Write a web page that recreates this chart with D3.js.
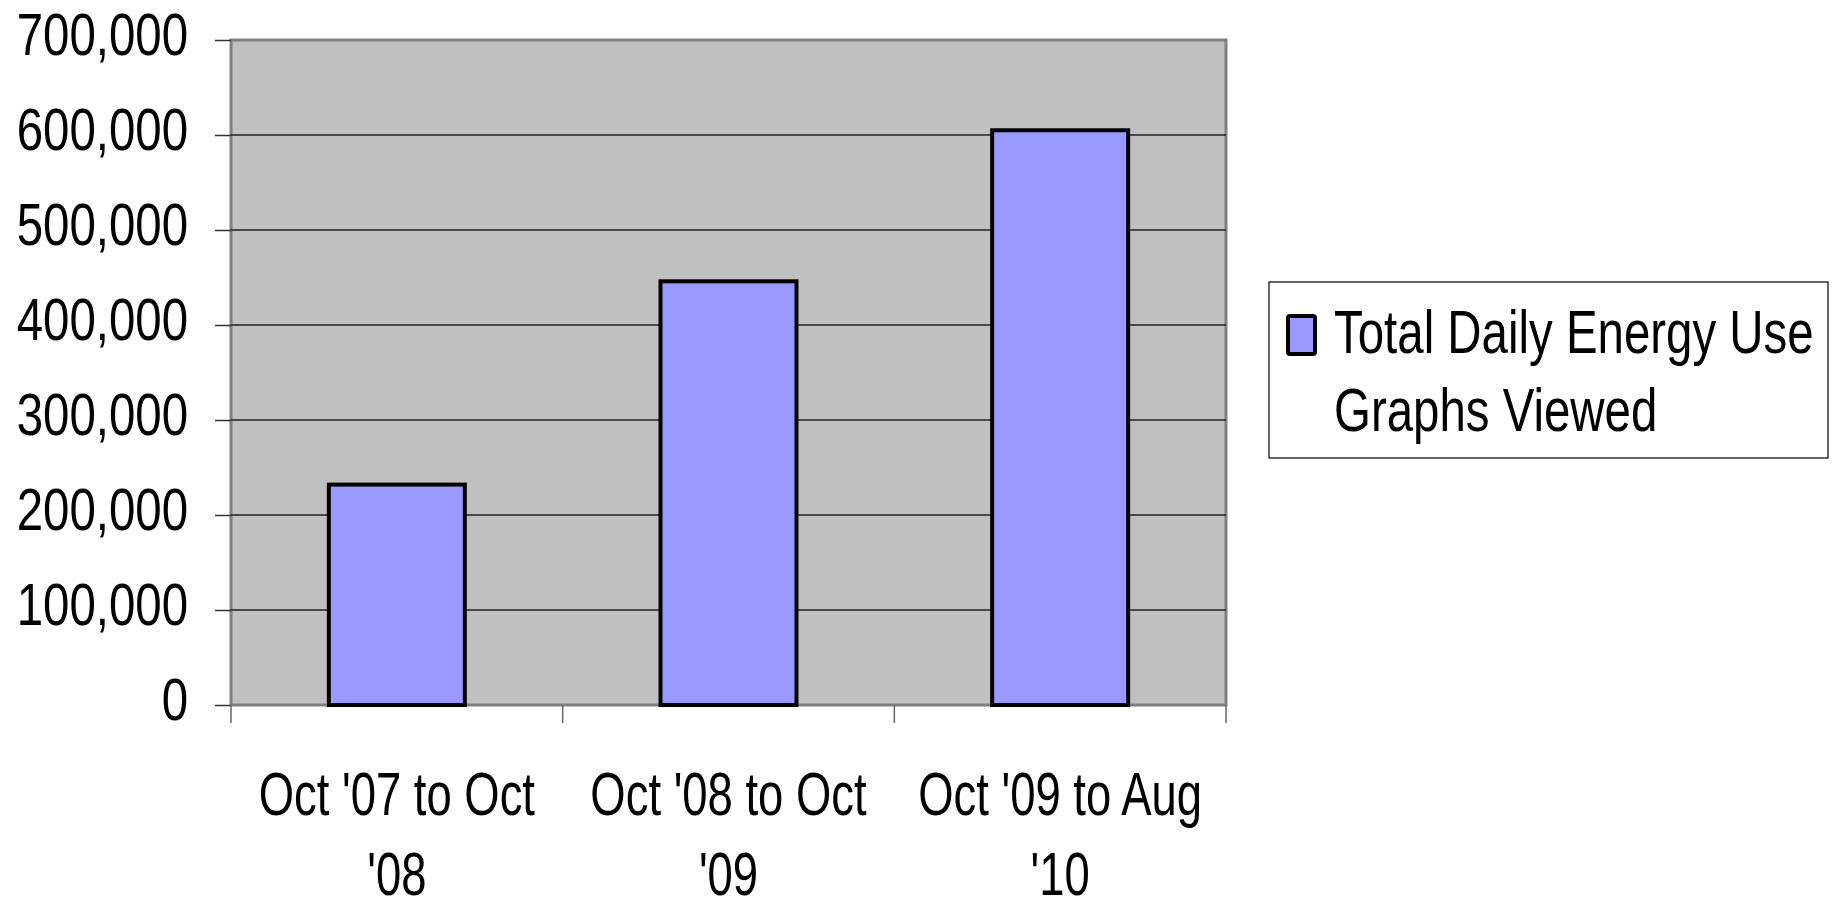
<!DOCTYPE html>
<html>
<head>
<meta charset="utf-8">
<script src="https://cdn.jsdelivr.net/npm/d3@7"></script>
<style>
  body { margin: 0; background: #ffffff; }
  text { font-family: "Liberation Sans", Arial, sans-serif; fill: #000; }
</style>
</head>
<body>
<div id="chart"></div>
<script>
// data
const categories = ["Oct '07 to Oct '08", "Oct '08 to Oct '09", "Oct '09 to Aug '10"];
const categoryLines = [["Oct '07 to Oct", "'08"], ["Oct '08 to Oct", "'09"], ["Oct '09 to Aug", "'10"]];
const values = [232000, 446000, 605000];
const yTicks = [0, 100000, 200000, 300000, 400000, 500000, 600000, 700000];
const legendLines = ["Total Daily Energy Use", "Graphs Viewed"];

const W = 1839, H = 900;
const plot = {left: 231, right: 1226, top: 40, bottom: 705};

// the original uses a narrow face, so squeeze Liberation Sans sideways
function condense(sel, sx) {
    sel.each(function() {
        const t = d3.select(this);
        const tx = +t.attr('x') || 0, ty = +t.attr('y') || 0;
        t.attr('x', 0).attr('y', 0)
         .attr('transform', `translate(${tx},${ty}) scale(${sx},1)`);
    });
}

const svg = d3.select('#chart').append('svg')
    .attr('width', W)
    .attr('height', H);

svg.append('rect').attr('width', W).attr('height', H).attr('fill', '#ffffff');

const x = d3.scaleBand()
    .domain(categories)
    .range([plot.left, plot.right])
    .paddingInner(0.59)
    .paddingOuter(0.295);

const y = d3.scaleLinear()
    .domain([0, 700000])
    .range([plot.bottom, plot.top]);

// plot area
svg.append('rect')
    .attr('x', plot.left)
    .attr('y', plot.top)
    .attr('width', plot.right - plot.left)
    .attr('height', plot.bottom - plot.top)
    .attr('fill', '#c0c0c0')
    .attr('stroke', '#808080')
    .attr('stroke-width', 3);

// gridlines
svg.append('g')
    .selectAll('line')
    .data(yTicks.filter(d => d > 0 && d < 700000))
    .enter().append('line')
    .attr('x1', plot.left)
    .attr('x2', plot.right)
    .attr('y1', d => y(d))
    .attr('y2', d => y(d))
    .attr('stroke', '#222')
    .attr('stroke-width', 1.5);

// y axis
const yAxis = svg.append('g')
    .attr('transform', `translate(${plot.left},0)`)
    .call(d3.axisLeft(y).tickValues(yTicks).tickSize(16).tickPadding(27).tickFormat(d3.format(',')));
yAxis.select('.domain').remove();
yAxis.selectAll('.tick line').attr('stroke', '#333').attr('stroke-width', 1.5);
yAxis.selectAll('.tick text')
    .attr('font-size', 60)
    .attr('dy', '0.24em')
    .call(condense, 0.79);

// x axis: ticks sit on the band boundaries
const step = x.step();
const bounds = categories.map(c => x(c) - step * x.paddingInner() / 2);
bounds.push(bounds[bounds.length - 1] + step);

svg.append('line')
    .attr('x1', plot.left).attr('x2', plot.right)
    .attr('y1', plot.bottom).attr('y2', plot.bottom)
    .attr('stroke', '#808080').attr('stroke-width', 2);

svg.append('g')
    .selectAll('line')
    .data(bounds)
    .enter().append('line')
    .attr('x1', d => d).attr('x2', d => d)
    .attr('y1', plot.bottom).attr('y2', plot.bottom + 18)
    .attr('stroke', '#666')
    .attr('stroke-width', 1.5);

const xl = svg.append('g')
    .selectAll('text')
    .data(categories)
    .enter().append('text')
    .attr('text-anchor', 'middle')
    .attr('font-size', 61)
    .attr('transform', d => `translate(${x(d) + x.bandwidth() / 2},815) scale(0.745,1)`);
xl.each(function(d, i) {
    categoryLines[i].forEach((line, j) => {
        d3.select(this).append('tspan')
            .attr('x', 0)
            .attr('y', j * 80)
            .text(line);
    });
});

// bars
svg.append('g')
    .selectAll('rect')
    .data(values)
    .enter().append('rect')
    .attr('x', (d, i) => x(categories[i]))
    .attr('y', d => y(d))
    .attr('width', x.bandwidth())
    .attr('height', d => y(0) - y(d))
    .attr('fill', '#9999ff')
    .attr('stroke', '#000')
    .attr('stroke-width', 4);

// legend
const legend = svg.append('g').attr('transform', 'translate(1269,282)');
legend.append('rect')
    .attr('width', 559)
    .attr('height', 176)
    .attr('fill', '#fff')
    .attr('stroke', '#000')
    .attr('stroke-width', 1.2);
legend.append('rect')
    .attr('x', 19).attr('y', 34)
    .attr('width', 27).attr('height', 38)
    .attr('rx', 2)
    .attr('fill', '#9999ff')
    .attr('stroke', '#000')
    .attr('stroke-width', 4);
legend.selectAll('text.leg')
    .data(legendLines)
    .enter().append('text')
    .attr('class', 'leg')
    .attr('x', 65)
    .attr('y', (d, i) => 71 + i * 78)
    .attr('font-size', 62)
    .text(d => d)
    .call(condense, 0.765);
</script>
</body>
</html>
